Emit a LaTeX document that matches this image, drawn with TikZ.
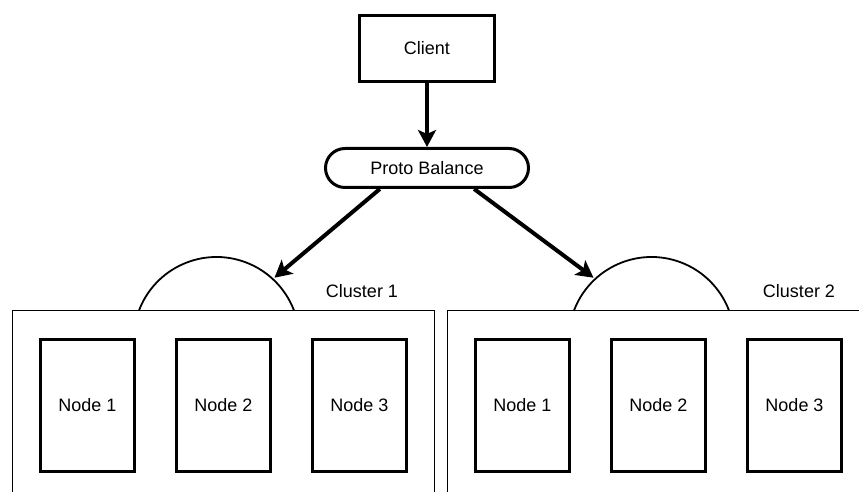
\documentclass[tikz,border=0pt]{standalone}
\usepackage{fontspec}
\setmainfont{Liberation Sans}
\usepackage{tikz}
\usetikzlibrary{arrows.meta, positioning, calc}
\tikzstyle{clientbox} = [rectangle, draw=black, line width=3pt, minimum width=135pt, minimum height=66pt,
  text centered, inner sep=0pt]
\tikzstyle{balancebox} = [rectangle, rounded corners=19.5pt, draw=black, line width=3pt, minimum width=203pt,
  minimum height=39pt, text centered, inner sep=0pt]
\tikzstyle{clusterbox} = [rectangle, draw=black, line width=1.5pt, minimum width=422pt, minimum height=200pt]
\tikzstyle{nodebox} = [rectangle, draw=black, line width=3pt, minimum width=94pt, minimum height=132pt,
  text centered, inner sep=0pt]
\tikzstyle{portline} = [draw=black, line width=1.8pt]
\tikzstyle{arrow} = [line width=4pt, -{Stealth[length=17pt, width=18pt, inset=4pt]}]

\begin{document}
\begin{tikzpicture}[x=1pt, y=1pt, node distance=39pt, every node/.style={font=\fontsize{18}{21}\selectfont}]
  \clip (0,0) rectangle (859,492);

  % === CLIENT + BALANCER ===
  \node (client) [clientbox] at (427,443.5) {Client};
  \node (pb) [balancebox] at (427,324) {Proto Balance};

  % === CLUSTER 1 ===
  \node (cl1) [clusterbox] at (223.5,81.5) {};
  \node (c1n1) [nodebox] at (87.5,86.5) {Node 1};
  \node (c1n2) [nodebox, right=of c1n1] {Node 2};
  \node (c1n3) [nodebox, right=of c1n2] {Node 3};
  \node (c1lbl) at (362,201) {Cluster 1};
  \coordinate (c1port) at (216.5,152.1);
  \draw[portline] (c1port) ++(159.2:82.9) arc[start angle=159.2, end angle=20.8, radius=82.9];
  \coordinate (c1in) at ($(c1port)+(47:85)$);

  % === CLUSTER 2 ===
  \node (cl2) [clusterbox] at (658.5,81.5) {};
  \node (c2n1) [nodebox] at (522.5,86.5) {Node 1};
  \node (c2n2) [nodebox, right=of c2n1] {Node 2};
  \node (c2n3) [nodebox, right=of c2n2] {Node 3};
  \node (c2lbl) at (799,201) {Cluster 2};
  \coordinate (c2port) at (651.5,152.1);
  \draw[portline] (c2port) ++(159.2:82.9) arc[start angle=159.2, end angle=20.8, radius=82.9];
  \coordinate (c2in) at ($(c2port)+(133:85)$);

  % === ARROWS ===
  \draw[arrow] (client) -- (pb);
  \draw[arrow] (pb.204) -- (c1in);
  \draw[arrow] (pb.-24) -- (c2in);

\end{tikzpicture}
\end{document}
